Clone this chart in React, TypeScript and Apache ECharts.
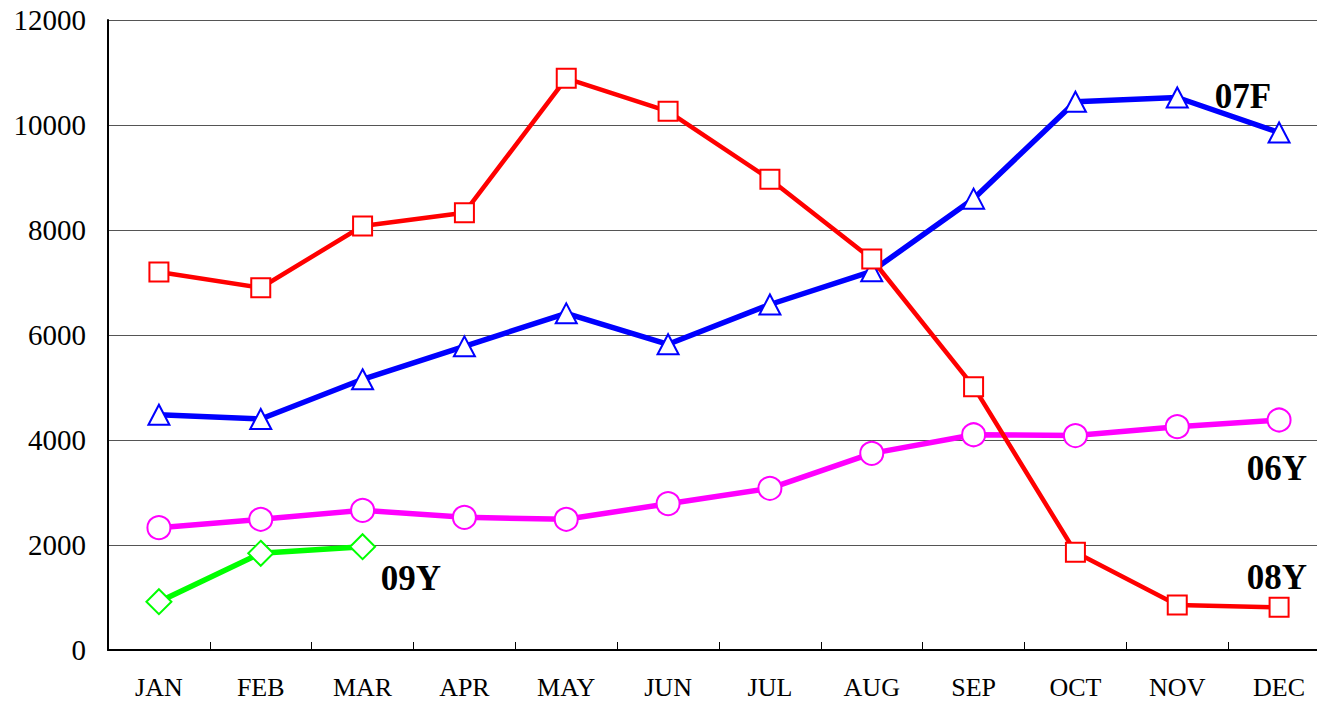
import React, { useEffect, useRef } from "react";
import * as echarts from "echarts";

const months = ["JAN", "FEB", "MAR", "APR", "MAY", "JUN", "JUL", "AUG", "SEP", "OCT", "NOV", "DEC"];
const y06 = [2330, 2490, 2660, 2527, 2490, 2787, 3080, 3746, 4100, 4085, 4254, 4381];
const f07 = [4482, 4400, 5156, 5784, 6413, 5823, 6581, 7213, 8597, 10444, 10524, 9857];
const y08 = [7200, 6900, 8076, 8330, 10890, 10260, 8966, 7448, 5016, 1861, 857, 813];
const y09 = [920, 1842, 1968];

const seriesNames = ["06Y", "07F", "08Y", "09Y"];

const FONT = "'Liberation Serif', 'Times New Roman', serif";

export default function App() {
  const ref = useRef<HTMLDivElement>(null);
  useEffect(() => {
    document.body.style.margin = "0";
    const chart = echarts.init(ref.current!, null, { renderer: "svg" });
    const lbl = (text: string, x: number, y: number) => ({
      type: "text",
      x,
      y,
      style: {
        text,
        fill: "#000",
        font: `bold 35px ${FONT}`,
        textAlign: "center",
        textVerticalAlign: "middle",
      },
      z: 100,
    });
    chart.setOption({
      animation: false,
      backgroundColor: "#fff",
      grid: { left: 108, top: 20, width: 1222, height: 630, containLabel: false },
      xAxis: {
        type: "category",
        data: months,
        boundaryGap: true,
        axisLine: { lineStyle: { color: "#000", width: 2 } },
        axisTick: { show: true, inside: true, length: 8, lineStyle: { color: "#000", width: 1 } },
        axisLabel: { color: "#000", fontFamily: FONT, fontSize: 26, margin: 24 },
      },
      yAxis: {
        type: "value",
        min: 0,
        max: 12000,
        interval: 2000,
        axisLine: { show: true, lineStyle: { color: "#000", width: 2 } },
        axisTick: { show: false },
        axisLabel: {
          color: "#000",
          fontFamily: FONT,
          fontSize: 29,
          margin: 22,
          formatter: (v: number) => String(v),
        },
        splitLine: { lineStyle: { color: "#555", width: 1 } },
      },
      series: [
        {
          name: seriesNames[0],
          type: "line",
          data: y06,
          symbol: "circle",
          symbolSize: 23,
          lineStyle: { color: "#FF00FF", width: 5.5 },
          itemStyle: { color: "#fff", borderColor: "#FF00FF", borderWidth: 2 },
        },
        {
          name: seriesNames[1],
          type: "line",
          data: f07,
          symbol: "triangle",
          symbolSize: [21, 20],
          lineStyle: { color: "#0000FF", width: 5.5 },
          itemStyle: { color: "#fff", borderColor: "#0000FF", borderWidth: 2 },
        },
        {
          name: seriesNames[2],
          type: "line",
          data: y08,
          symbol: "rect",
          symbolSize: 19,
          lineStyle: { color: "#FF0000", width: 4.5 },
          itemStyle: { color: "#fff", borderColor: "#FF0000", borderWidth: 2 },
        },
        {
          name: seriesNames[3],
          type: "line",
          data: y09,
          symbol: "diamond",
          symbolSize: 25,
          lineStyle: { color: "#00FF00", width: 5.5 },
          itemStyle: { color: "#fff", borderColor: "#00FF00", borderWidth: 2 },
        },
      ],
      graphic: [
        lbl("07F", 1243, 96),
        lbl("06Y", 1277, 468),
        lbl("08Y", 1277, 577),
        lbl("09Y", 411, 578),
      ],
    });
    return () => chart.dispose();
  }, []);
  return (
    <div style={{ width: 1317, height: 701, overflow: "hidden" }}>
      <div ref={ref} style={{ width: 1340, height: 701 }} />
    </div>
  );
}
